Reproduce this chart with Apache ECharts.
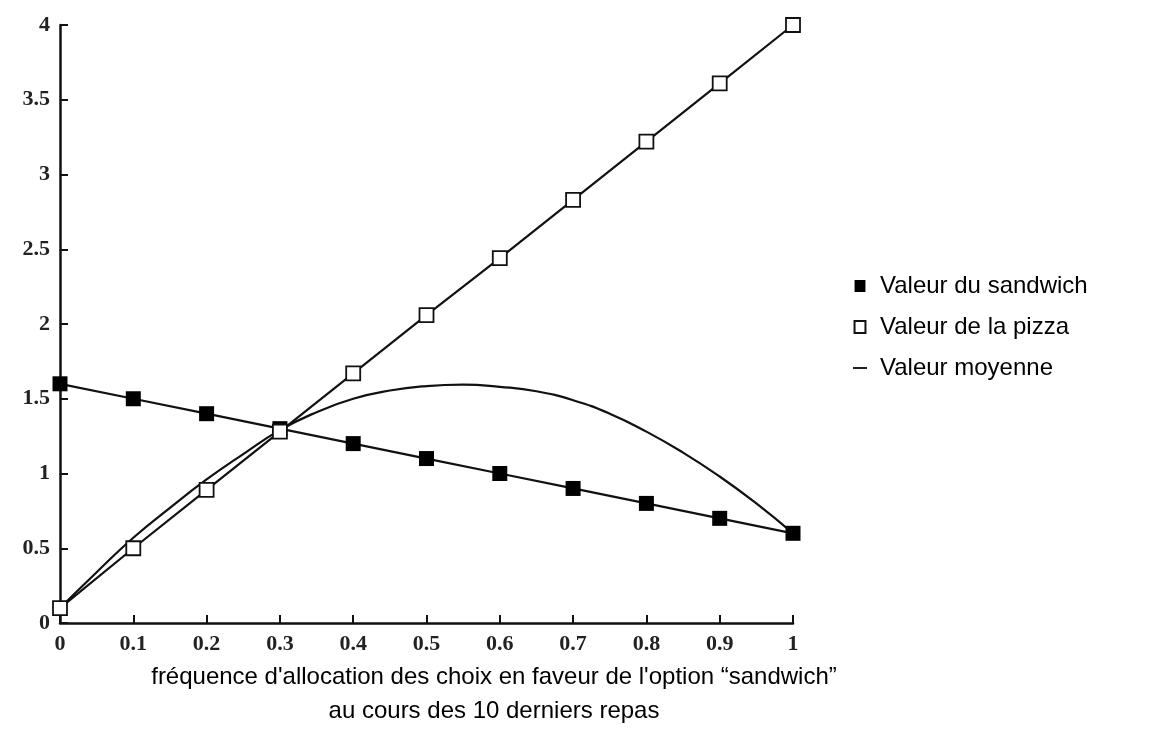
<!DOCTYPE html>
<html>
	<head>
		<meta charset="utf-8" />
		<title>Valeur du sandwich et de la pizza</title>
		<script src="https://cdn.jsdelivr.net/npm/echarts@6/dist/echarts.min.js"></script>
		<style>
			body { margin: 0; background: #fff; }
			#main { width: 1151px; height: 736px; }
		</style>
	</head>
	<body>
		<div id="main"></div>
	<script>
	// fréquence (axe x)
	var frequences = [0, 0.1, 0.2, 0.3, 0.4, 0.5, 0.6, 0.7, 0.8, 0.9, 1];
	// valeurs
	var sandwich = [1.6, 1.5, 1.4, 1.3, 1.2, 1.1, 1.0, 0.9, 0.8, 0.7, 0.6];
	var pizza = [0.1, 0.5, 0.89, 1.28, 1.67, 2.06, 2.44, 2.83, 3.22, 3.61, 4.0];
	// courbe moyenne, lue tous les 0.05
	var freqMoyenne = [0, 0.05, 0.1, 0.15, 0.2, 0.25, 0.3, 0.35, 0.4, 0.45, 0.5,
		0.55, 0.6, 0.65, 0.7, 0.75, 0.8, 0.85, 0.9, 0.95, 1];
	var moyenne = [0.1, 0.34, 0.57, 0.77, 0.96, 1.13, 1.29, 1.41, 1.50, 1.555, 1.585,
		1.595, 1.58, 1.55, 1.49, 1.40, 1.28, 1.14, 0.98, 0.80, 0.6];

	function pts(xs, ys){
		return xs.map(function(x, i){ return [x, ys[i]]; });
	}

	var serif = 'Liberation Serif';
	var sans = 'Liberation Sans';

	var chart = echarts.init(document.getElementById('main'));

	var option = {
		animation: false,
		backgroundColor: '#fff',
		title: {
			text: "fréquence d'allocation des choix en faveur de l'option \u201csandwich\u201d\nau cours des 10 derniers repas",
			left: 489,
			top: 655,
			textAlign: 'center',
			textStyle: {
				fontFamily: sans,
				fontSize: 24,
				fontWeight: 'normal',
				color: '#000',
				lineHeight: 34
			}
		},
		legend: {
			orient: 'vertical',
			left: 848,
			top: 269,
			itemGap: 17,
			itemWidth: 14,
			itemHeight: 12,
			textStyle: { fontFamily: sans, fontSize: 24, color: '#000', padding: [0, 0, 0, 8] },
			data: [
				{ name: 'Valeur du sandwich', icon: 'path://M3,0 L13,0 L13,11 L3,11 Z' },
				{ name: 'Valeur de la pizza', icon: 'path://M3,0 L13,0 L13,11 L3,11 Z' },
				{ name: 'Valeur moyenne', icon: 'path://M0,6 L15,6 L15,8 L0,8 Z' }
			]
		},
		grid: { left: 60, right: 358, top: 25, bottom: 113 },
		xAxis: {
			type: 'value',
			min: 0,
			max: 1,
			interval: 0.1,
			splitLine: { show: false },
			axisLine: { lineStyle: { color: '#111', width: 2.5 } },
			axisTick: { inside: true, length: 8, lineStyle: { color: '#111', width: 2 } },
			axisLabel: { fontFamily: serif, fontSize: 22, fontWeight: 'bold', color: '#222', margin: 10 }
		},
		yAxis: {
			type: 'value',
			min: 0,
			max: 4,
			interval: 0.5,
			splitLine: { show: false },
			axisLine: { show: true, lineStyle: { color: '#111', width: 2.5 } },
			axisTick: { show: true, inside: true, length: 8, lineStyle: { color: '#111', width: 2 } },
			axisLabel: { fontFamily: serif, fontSize: 22, fontWeight: 'bold', color: '#222', margin: 10 }
		},
		series: [
			{
				name: 'Valeur moyenne',
				type: 'line',
				data: pts(freqMoyenne, moyenne),
				smooth: 0.5,
				showSymbol: false,
				symbol: 'none',
				clip: false,
				itemStyle: { color: '#111' },
				lineStyle: { color: '#111', width: 2.2 },
				z: 2
			},
			{
				name: 'Valeur du sandwich',
				type: 'line',
				data: pts(frequences, sandwich),
				symbol: 'rect',
				symbolSize: 15,
				clip: false,
				itemStyle: { color: '#000' },
				lineStyle: { color: '#111', width: 2.2 },
				z: 3
			},
			{
				name: 'Valeur de la pizza',
				type: 'line',
				data: pts(frequences, pizza),
				symbol: 'rect',
				symbolSize: 14,
				clip: false,
				itemStyle: { color: '#fff', borderColor: '#111', borderWidth: 1.8 },
				lineStyle: { color: '#111', width: 2.2 },
				z: 4
			}
		]
	};

	chart.setOption(option);
	</script>
	</body>
</html>
